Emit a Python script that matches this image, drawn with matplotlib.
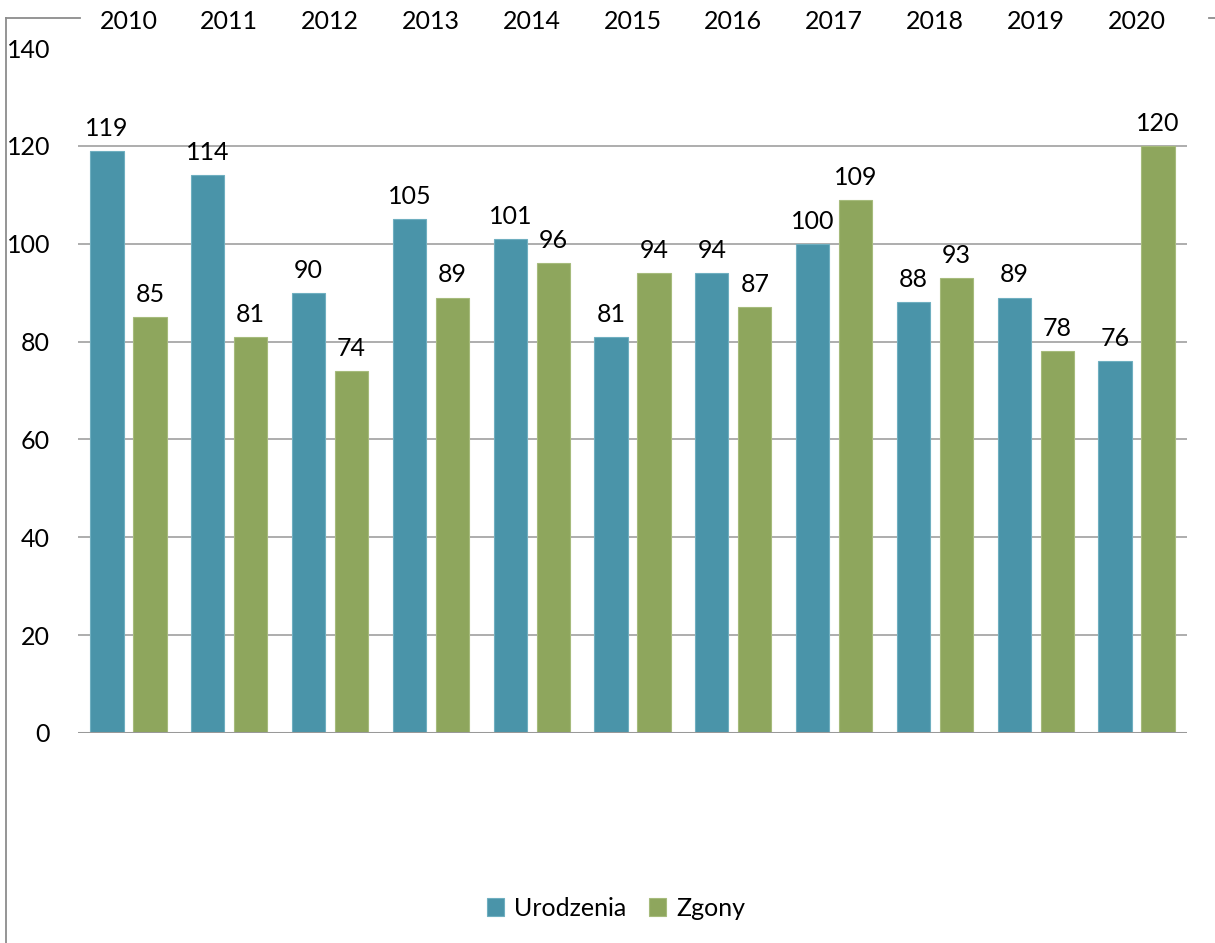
import matplotlib
matplotlib.use("Agg")
import matplotlib.pyplot as plt
import numpy as np
from matplotlib.lines import Line2D

years = ["2010", "2011", "2012", "2013", "2014", "2015", "2016", "2017", "2018", "2019", "2020"]
urodzenia = [119, 114, 90, 105, 101, 81, 94, 100, 88, 89, 76]
zgony = [85, 81, 74, 89, 96, 94, 87, 109, 93, 78, 120]
yticks = [0, 20, 40, 60, 80, 100, 120, 140]

blue = "#4A94A9"
green = "#8EA65D"

plt.rcParams['font.family'] = ['Lato', 'DejaVu Sans']
FS = 18

W, H = 1215, 943
fig = plt.figure(figsize=(W / 100, H / 100), dpi=100)
ax = fig.add_axes([78 / W, 1 - 733 / H, (1187 - 78) / W, (733 - 48) / H])

x = np.arange(len(years))
bw = 0.33
off = 0.213
b1 = ax.bar(x - off, urodzenia, bw, color=blue, edgecolor="#6FAFC0", linewidth=0.8, label="Urodzenia", zorder=3)
b2 = ax.bar(x + off, zgony, bw, color=green, edgecolor="#A6BB7C", linewidth=0.8, label="Zgony", zorder=3)

for bars, vals in ((b1, urodzenia), (b2, zgony)):
    for r, v in zip(bars, vals):
        ax.annotate(str(v), (r.get_x() + r.get_width() / 2, v), xytext=(0, 8),
                    textcoords="offset points", ha="center", va="bottom", fontsize=FS)

ax.set_xlim(-0.5, len(years) - 0.5)
ax.set_ylim(0, 140)
ax.set_yticks(yticks)
ax.set_yticklabels([str(t) for t in yticks], fontsize=FS)
ax.set_xticks(x)
ax.set_xticklabels(years, fontsize=FS)
ax.xaxis.tick_top()
ax.tick_params(axis="x", length=0, pad=11)
ax.tick_params(axis="y", length=0, pad=20)

for t in yticks[1:-1]:
    ax.axhline(t, color="#A0A0A0", linewidth=1.2, zorder=1)
ax.axhline(0, color="#999999", linewidth=2.2, zorder=4)

for s in ax.spines.values():
    s.set_visible(False)

leg = ax.legend(loc="center", bbox_to_anchor=((616 - 78) / (1187 - 78), (733 - 908) / (733 - 48)),
                ncol=2, frameon=False, fontsize=FS, handlelength=0.7, handleheight=0.7,
                handletextpad=0.4, columnspacing=0.9)

# outer chart border fragments
fig.add_artist(Line2D([6 / W, 6 / W], [0, 1 - 18 / H], color="#8C8C8C", linewidth=1.3))
fig.add_artist(Line2D([6 / W, 80 / W], [1 - 18 / H, 1 - 18 / H], color="#8C8C8C", linewidth=1.3))
fig.add_artist(Line2D([1209 / W, 1 ], [1 - 18 / H, 1 - 18 / H], color="#8C8C8C", linewidth=1.3))

fig.savefig("out.png", dpi=100)
